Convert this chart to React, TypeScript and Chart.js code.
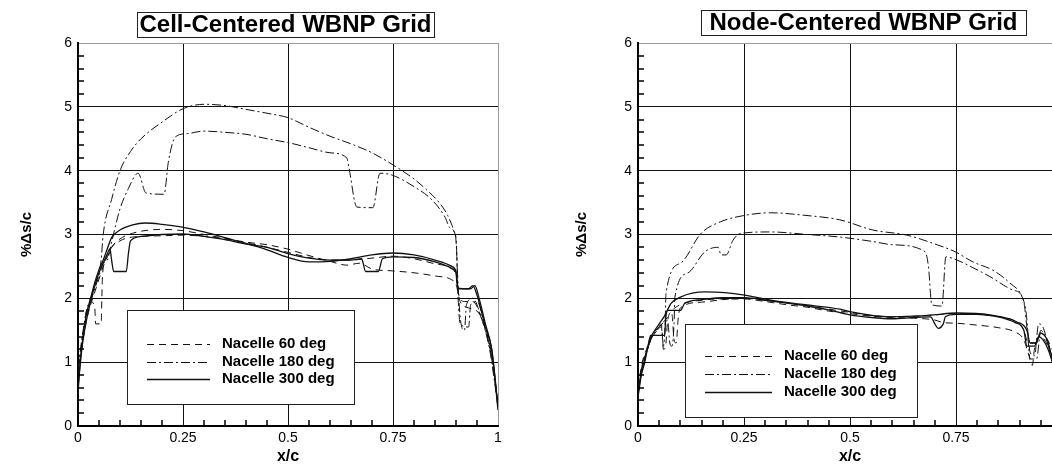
import React, { useEffect, useRef } from "react";
import { Chart, registerables } from "chart.js";

Chart.register(...registerables);

type Pt = [number, number];

const FONT = "'Liberation Sans', Arial, Helvetica, sans-serif";

// Axis tick labels
const xTickLabels = ["0", "0.25", "0.5", "0.75", "1"];
const yTickLabels = ["0", "1", "2", "3", "4", "5", "6"];
const legendLabels = ["Nacelle 60 deg", "Nacelle 180 deg", "Nacelle 300 deg"];

// ---- Cell-centered grid: %Δs/c vs x/c ----
const cellNacelle60A: Pt[] = [
  [0, 0.6], [0.005, 1.0], [0.012, 1.35], [0.02, 1.65], [0.03, 1.9], [0.04, 2.1], [0.05, 2.3],
  [0.06, 2.5], [0.07, 2.65], [0.08, 2.8], [0.1, 2.93], [0.13, 3.02], [0.2, 3.08], [0.25, 3.06],
  [0.3, 3.0], [0.35, 2.94], [0.4, 2.88], [0.45, 2.84], [0.5, 2.77], [0.55, 2.67], [0.6, 2.58],
  [0.64, 2.52], [0.67, 2.55], [0.7, 2.46], [0.75, 2.43], [0.8, 2.4], [0.85, 2.35], [0.89, 2.29],
  [0.9, 2.22], [0.91, 1.95], [0.93, 1.85], [0.95, 1.8], [0.97, 1.55], [0.99, 0.9], [1, 0.3],
];
const cellNacelle60B: Pt[] = [
  [0, 0.8], [0.01, 1.3], [0.02, 1.7], [0.03, 1.95], [0.04, 1.85], [0.042, 1.6], [0.055, 1.6],
  [0.058, 2.3], [0.065, 2.6], [0.075, 2.75], [0.1, 2.9], [0.13, 2.96], [0.2, 2.98], [0.25, 2.99],
  [0.3, 2.97], [0.35, 2.93], [0.4, 2.87], [0.45, 2.8], [0.5, 2.72], [0.55, 2.64], [0.6, 2.6],
  [0.65, 2.6], [0.7, 2.63], [0.75, 2.66], [0.8, 2.62], [0.85, 2.54], [0.89, 2.46], [0.9, 2.35],
  [0.905, 2.1], [0.92, 1.95], [0.94, 1.95], [0.96, 1.7], [0.98, 1.25], [1, 0.35],
];
const cellNacelle180A: Pt[] = [
  [0, 0.9], [0.01, 1.4], [0.02, 1.8], [0.03, 2.0], [0.04, 2.2], [0.05, 2.4], [0.055, 2.6],
  [0.06, 3.0], [0.08, 3.55], [0.1, 4.0], [0.125, 4.3], [0.15, 4.5], [0.2, 4.76], [0.25, 4.97],
  [0.3, 5.04], [0.35, 5.02], [0.4, 4.96], [0.45, 4.9], [0.5, 4.83], [0.55, 4.68], [0.6, 4.54],
  [0.65, 4.42], [0.7, 4.28], [0.75, 4.09], [0.8, 3.87], [0.83, 3.7], [0.86, 3.5], [0.88, 3.3],
  [0.895, 3.05], [0.9, 2.9], [0.905, 2.2], [0.91, 1.7], [0.92, 1.5], [0.925, 1.9], [0.94, 2.0],
  [0.96, 1.7], [0.98, 1.2], [1, 0.3],
];
const cellNacelle180B: Pt[] = [
  [0, 0.9], [0.01, 1.35], [0.02, 1.8], [0.03, 1.95], [0.04, 2.15], [0.05, 2.35], [0.06, 2.55],
  [0.07, 2.6], [0.08, 2.88], [0.1, 3.4], [0.12, 3.72], [0.143, 3.96], [0.162, 3.65], [0.205, 3.63],
  [0.215, 4.13], [0.232, 4.53], [0.26, 4.58], [0.3, 4.62], [0.35, 4.6], [0.4, 4.57], [0.45, 4.5],
  [0.5, 4.44], [0.55, 4.36], [0.6, 4.28], [0.64, 4.2], [0.645, 4.05], [0.664, 3.43], [0.702, 3.42],
  [0.719, 3.96], [0.748, 3.93], [0.8, 3.75], [0.843, 3.54], [0.874, 3.27], [0.886, 3.1], [0.9, 2.95],
  [0.905, 2.0], [0.91, 1.6], [0.93, 1.55], [0.935, 1.9], [0.95, 1.95], [0.97, 1.5], [0.99, 0.9], [1, 0.3],
];
const cellNacelle300A: Pt[] = [
  [0, 0.5], [0.005, 1.0], [0.012, 1.4], [0.02, 1.75], [0.03, 2.0], [0.04, 2.25], [0.05, 2.45],
  [0.06, 2.6], [0.07, 2.78], [0.08, 2.95], [0.1, 3.07], [0.13, 3.15], [0.16, 3.18], [0.2, 3.16],
  [0.245, 3.12], [0.3, 3.04], [0.35, 2.95], [0.4, 2.86], [0.45, 2.76], [0.5, 2.64], [0.55, 2.57],
  [0.6, 2.58], [0.65, 2.62], [0.7, 2.68], [0.75, 2.71], [0.8, 2.68], [0.85, 2.6], [0.89, 2.5],
  [0.9, 2.42], [0.905, 2.16], [0.93, 2.15], [0.94, 2.2], [0.95, 2.05], [0.97, 1.55], [0.985, 1.2], [1, 0.3],
];
const cellNacelle300B: Pt[] = [
  [0, 0.6], [0.01, 1.25], [0.02, 1.65], [0.03, 1.95], [0.04, 2.2], [0.05, 2.4], [0.06, 2.55],
  [0.07, 2.7], [0.076, 2.78], [0.08, 2.6], [0.085, 2.42], [0.115, 2.42], [0.12, 2.7], [0.125, 2.9],
  [0.15, 2.97], [0.2, 3.0], [0.25, 3.01], [0.3, 2.97], [0.35, 2.92], [0.4, 2.85], [0.45, 2.8],
  [0.5, 2.7], [0.55, 2.63], [0.6, 2.6], [0.65, 2.6], [0.675, 2.62], [0.685, 2.42], [0.715, 2.42],
  [0.725, 2.62], [0.75, 2.65], [0.8, 2.64], [0.85, 2.57], [0.89, 2.47], [0.9, 2.4], [0.905, 2.15],
  [0.935, 2.15], [0.945, 2.2], [0.955, 2.0], [0.97, 1.6], [0.985, 1.2], [1, 0.25],
];

// ---- Node-centered grid: %Δs/c vs x/c ----
const nodeNacelle60A: Pt[] = [
  [0, 0.5], [0.01, 0.95], [0.02, 1.15], [0.03, 1.35], [0.045, 1.5], [0.055, 1.6], [0.06, 1.2],
  [0.065, 1.25], [0.07, 1.65], [0.08, 1.8], [0.1, 1.9], [0.15, 1.97], [0.2, 1.99], [0.25, 1.99],
  [0.3, 1.95], [0.35, 1.9], [0.4, 1.86], [0.45, 1.8], [0.5, 1.76], [0.55, 1.72], [0.6, 1.7],
  [0.65, 1.69], [0.7, 1.66], [0.72, 1.62], [0.75, 1.61], [0.8, 1.58], [0.85, 1.54], [0.89, 1.47],
  [0.91, 1.35], [0.92, 1.15], [0.93, 0.95], [0.935, 1.2], [0.95, 1.4], [0.97, 1.2], [0.99, 0.8], [1, 0.4],
];
const nodeNacelle60B: Pt[] = [
  [0, 0.6], [0.01, 1.0], [0.02, 1.2], [0.03, 1.4], [0.05, 1.55], [0.07, 1.7], [0.08, 1.75],
  [0.085, 1.35], [0.09, 1.3], [0.095, 1.7], [0.1, 1.85], [0.15, 1.94], [0.2, 1.98], [0.25, 2.0],
  [0.3, 1.97], [0.35, 1.93], [0.4, 1.88], [0.45, 1.83], [0.5, 1.78], [0.55, 1.73], [0.6, 1.71],
  [0.65, 1.72], [0.7, 1.74], [0.75, 1.76], [0.8, 1.75], [0.85, 1.71], [0.89, 1.64], [0.91, 1.5],
  [0.92, 1.3], [0.94, 1.3], [0.95, 1.45], [0.97, 1.3], [0.99, 0.9], [1, 0.4],
];
const nodeNacelle180A: Pt[] = [
  [0, 0.5], [0.01, 0.95], [0.02, 1.15], [0.03, 1.35], [0.045, 1.5], [0.055, 1.55], [0.06, 1.25],
  [0.064, 1.6], [0.066, 2.08], [0.1, 2.55], [0.149, 3.02], [0.195, 3.2], [0.252, 3.3], [0.313, 3.34],
  [0.394, 3.3], [0.476, 3.23], [0.554, 3.07], [0.634, 2.99], [0.705, 2.84], [0.748, 2.73], [0.79, 2.57],
  [0.837, 2.44], [0.877, 2.24], [0.906, 2.02], [0.915, 1.8], [0.925, 1.15], [0.935, 1.1], [0.945, 1.6],
  [0.955, 1.55], [0.972, 1.14], [1, 0.4],
];
const nodeNacelle180B: Pt[] = [
  [0, 0.5], [0.01, 0.95], [0.02, 1.15], [0.03, 1.35], [0.05, 1.55], [0.07, 1.65], [0.075, 1.3],
  [0.08, 1.25], [0.085, 1.6], [0.087, 2.02], [0.118, 2.4], [0.158, 2.73], [0.189, 2.8], [0.196, 2.68],
  [0.208, 2.68], [0.224, 2.91], [0.243, 3.02], [0.313, 3.04], [0.4, 3.0], [0.476, 2.96], [0.554, 2.89],
  [0.6, 2.84], [0.677, 2.73], [0.685, 2.5], [0.693, 1.9], [0.717, 1.88], [0.726, 2.65], [0.752, 2.6],
  [0.79, 2.48], [0.83, 2.34], [0.884, 2.13], [0.908, 2.0], [0.918, 1.5], [0.925, 1.05], [0.94, 1.05],
  [0.95, 1.5], [0.96, 1.4], [0.98, 1.0], [1, 0.4],
];
const nodeNacelle300A: Pt[] = [
  [0, 0.5], [0.008, 0.85], [0.016, 1.05], [0.03, 1.38], [0.047, 1.57], [0.063, 1.73], [0.078, 1.92],
  [0.1, 2.02], [0.158, 2.1], [0.205, 2.09], [0.252, 2.05], [0.313, 1.97], [0.394, 1.9], [0.476, 1.83],
  [0.5, 1.79], [0.594, 1.71], [0.65, 1.72], [0.696, 1.74], [0.752, 1.77], [0.83, 1.74], [0.894, 1.63],
  [0.917, 1.5], [0.925, 1.3], [0.94, 1.3], [0.948, 1.46], [0.965, 1.35], [0.976, 1.08], [1, 0.4],
];
const nodeNacelle300B: Pt[] = [
  [0, 0.45], [0.008, 0.8], [0.016, 1.0], [0.025, 1.3], [0.03, 1.42], [0.063, 1.42], [0.065, 1.65],
  [0.07, 1.81], [0.1, 1.81], [0.11, 1.92], [0.15, 1.98], [0.2, 2.01], [0.252, 2.01], [0.3, 1.97],
  [0.4, 1.88], [0.45, 1.82], [0.5, 1.74], [0.55, 1.7], [0.6, 1.68], [0.65, 1.7], [0.69, 1.71],
  [0.7, 1.6], [0.708, 1.53], [0.72, 1.6], [0.725, 1.71], [0.75, 1.75], [0.8, 1.75], [0.85, 1.71],
  [0.89, 1.62], [0.91, 1.5], [0.917, 1.25], [0.935, 1.25], [0.945, 1.4], [0.96, 1.3], [0.975, 1.05], [1, 0.4],
];

// Line styles per nacelle position (index matches legendLabels)
const lineStyles = [
  { dash: [7, 5], width: 1 },
  { dash: [9, 3, 2, 3], width: 1 },
  { dash: [] as number[], width: 1.3 },
];

type Series = { style: number; data: Pt[] };

const cellSeries: Series[] = [
  { style: 0, data: cellNacelle60A },
  { style: 0, data: cellNacelle60B },
  { style: 1, data: cellNacelle180A },
  { style: 1, data: cellNacelle180B },
  { style: 2, data: cellNacelle300A },
  { style: 2, data: cellNacelle300B },
];
const nodeSeries: Series[] = [
  { style: 0, data: nodeNacelle60A },
  { style: 0, data: nodeNacelle60B },
  { style: 1, data: nodeNacelle180A },
  { style: 1, data: nodeNacelle180B },
  { style: 2, data: nodeNacelle300A },
  { style: 2, data: nodeNacelle300B },
];

// Boxed title, boxed legend and inward minor ticks
const decorPlugin = {
  id: "decor",
  afterDraw(chart: any, _args: any, opts: any) {
    const { ctx, chartArea } = chart;
    const xs = chart.scales.x;
    const ys = chart.scales.y;
    ctx.save();
    // minor ticks along the bottom and left axes
    ctx.strokeStyle = "#000";
    ctx.lineWidth = 1.5;
    ctx.setLineDash([]);
    ctx.beginPath();
    for (let k = 1; k < 20; k++) {
      if (k % 5 === 0) continue;
      const px = Math.round(xs.getPixelForValue(k / 20));
      ctx.moveTo(px, chartArea.bottom);
      ctx.lineTo(px, chartArea.bottom - 6);
    }
    for (let k = 1; k < 30; k++) {
      if (k % 5 === 0) continue;
      const py = Math.round(ys.getPixelForValue(k / 5));
      ctx.moveTo(chartArea.left, py);
      ctx.lineTo(chartArea.left + 6, py);
    }
    ctx.stroke();

    // title box
    const t = opts.title;
    ctx.fillStyle = "#fff";
    ctx.fillRect(t.x, t.y, t.w, t.h);
    ctx.strokeStyle = "#222";
    ctx.lineWidth = 1;
    ctx.strokeRect(t.x + 0.5, t.y + 0.5, t.w, t.h);
    ctx.fillStyle = "#000";
    ctx.font = `bold 24px ${FONT}`;
    ctx.textAlign = "center";
    ctx.textBaseline = "middle";
    ctx.fillText(t.text, t.x + t.w / 2, t.y + t.h / 2 + 1);

    // legend box
    const l = opts.legend;
    ctx.fillStyle = "#fff";
    ctx.fillRect(l.x, l.y, l.w, l.h);
    ctx.strokeStyle = "#222";
    ctx.strokeRect(l.x + 0.5, l.y + 0.5, l.w, l.h);
    ctx.font = `bold 15px ${FONT}`;
    ctx.textAlign = "left";
    ctx.textBaseline = "middle";
    legendLabels.forEach((label, i) => {
      const yy = l.rowY + i * l.rowGap;
      const st = lineStyles[i];
      ctx.strokeStyle = "#111";
      ctx.lineWidth = st.width;
      ctx.setLineDash(st.dash);
      ctx.beginPath();
      ctx.moveTo(l.lineX0, Math.round(yy) + 0.5);
      ctx.lineTo(l.lineX1, Math.round(yy) + 0.5);
      ctx.stroke();
      ctx.setLineDash([]);
      ctx.fillStyle = "#000";
      ctx.fillText(label, l.textX, yy);
    });
    ctx.restore();
  },
};

const isStep = (v: number, n: number) => Math.abs(v * n - Math.round(v * n)) < 1e-6;

type PanelProps = {
  left: number;
  width: number;
  axisWidth: number;
  padRight: number;
  yTitlePad: number;
  series: Series[];
  title: any;
  legend: any;
};

function Panel({ left, width, axisWidth, padRight, yTitlePad, series, title, legend }: PanelProps) {
  const ref = useRef<HTMLCanvasElement>(null);
  useEffect(() => {
    const canvas = ref.current!;
    const chart = new Chart(canvas, {
      type: "line",
      data: {
        datasets: series.map((s, i) => ({
          label: `${legendLabels[s.style]} ${i}`,
          data: s.data.map(([x, y]) => ({ x, y })),
          borderColor: "#111",
          borderWidth: lineStyles[s.style].width,
          borderDash: lineStyles[s.style].dash,
          pointRadius: 0,
          fill: false,
          cubicInterpolationMode: "monotone",
        })),
      },
      options: {
        responsive: false,
        animation: false,
        devicePixelRatio: 1,
        layout: { padding: { top: 43, right: padRight, left: 0, bottom: 0 } },
        plugins: {
          legend: { display: false },
          tooltip: { enabled: false },
          decor: { title, legend },
        } as any,
        scales: {
          x: {
            type: "linear",
            min: 0,
            max: 1,
            afterFit: (s: any) => {
              s.height = 40;
            },
            ticks: {
              stepSize: 0.25,
              autoSkip: false,
              maxRotation: 0,
              padding: 4,
              color: "#000",
              font: { family: FONT, size: 14 },
              callback: (v: any) => (isStep(v, 4) ? xTickLabels[Math.round(v * 4)] : ""),
            },
            grid: {
              drawTicks: false,
              lineWidth: 1,
              color: (c: any) => (c.tick && c.tick.value >= 1 ? "#9a9a9a" : "#111"),
            },
            border: { color: "#000", width: 2 },
            title: {
              display: true,
              text: "x/c",
              color: "#000",
              font: { family: FONT, size: 16, weight: "bold" },
              padding: { top: 0, bottom: 0 },
            },
          },
          y: {
            type: "linear",
            min: 0,
            max: 6,
            afterFit: (s: any) => {
              s.width = axisWidth;
            },
            ticks: {
              stepSize: 1,
              padding: 6,
              color: "#000",
              font: { family: FONT, size: 14 },
              callback: (v: any) => (isStep(v, 1) ? yTickLabels[Math.round(v)] : ""),
            },
            grid: {
              drawTicks: false,
              lineWidth: 1,
              color: (c: any) => (c.tick && c.tick.value >= 6 ? "#9a9a9a" : "#111"),
            },
            border: { color: "#000", width: 2 },
            title: {
              display: true,
              text: "%Δs/c",
              color: "#000",
              font: { family: FONT, size: 15, weight: "bold" },
              padding: { top: yTitlePad, bottom: 0 },
            },
          },
        },
      } as any,
      plugins: [decorPlugin],
    });
    return () => chart.destroy();
  }, []);
  return (
    <canvas
      ref={ref}
      width={width}
      height={466}
      style={{ position: "absolute", left, top: 0, width, height: 466 }}
    />
  );
}

export default function App() {
  return (
    <div
      style={{
        position: "fixed",
        left: 0,
        top: 0,
        width: 1052,
        height: 466,
        overflow: "hidden",
        background: "#fff",
      }}
    >
      <Panel
        left={0}
        width={520}
        axisWidth={78}
        padRight={22}
        yTitlePad={18}
        series={cellSeries}
        title={{ text: "Cell-Centered WBNP Grid", x: 137, y: 12, w: 297, h: 25 }}
        legend={{ x: 127, y: 310, w: 227, h: 94, rowY: 344, rowGap: 17.5, lineX0: 147, lineX1: 210, textX: 222 }}
      />
      <Panel
        left={530}
        width={550}
        axisWidth={108}
        padRight={18}
        yTitlePad={43}
        series={nodeSeries}
        title={{ text: "Node-Centered WBNP Grid", x: 171, y: 10, w: 325, h: 25 }}
        legend={{ x: 155, y: 324, w: 232, h: 93, rowY: 356, rowGap: 18, lineX0: 175, lineX1: 242, textX: 254 }}
      />
    </div>
  );
}
